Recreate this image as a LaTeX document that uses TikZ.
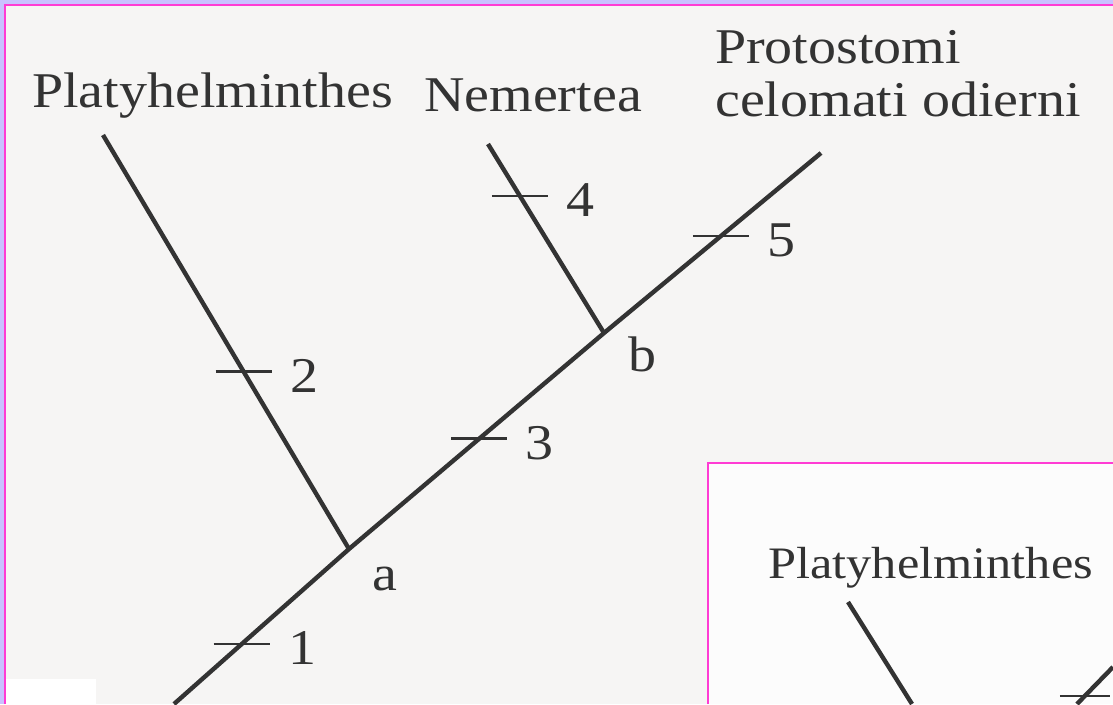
\documentclass[tikz,border=0pt]{standalone}
\usepackage{fontspec}
\setmainfont{Liberation Serif}[FakeStretch=1.12]
\usepackage{tikz}
\usetikzlibrary{positioning,calc}
\definecolor{PageGrey}{HTML}{F6F5F4}
\definecolor{InsetWhite}{HTML}{FCFCFC}
\definecolor{InkGrey}{HTML}{333333}
\definecolor{FrameViolet}{HTML}{C9C2FF}
\definecolor{FrameMagenta}{HTML}{FF3CD4}

\begin{document}
\begin{tikzpicture}[x=1pt,y=-1pt,
    every node/.style={font=\fontsize{50}{58}\selectfont,text=InkGrey},
    taxon/.style={anchor=base west,inner sep=0pt},
    branch/.style={draw=InkGrey,line width=4.4pt},
    tickline/.style={draw=InkGrey,line width=2.7pt},
    num/.style={right,inner sep=0pt,xshift=17pt,yshift=-4pt},
    knot/.style={inner sep=0pt}
  ]
    \useasboundingbox (0,0) rectangle (1113,704);
    \clip (0,0) rectangle (1113,704);
    % page and frame
    \fill[FrameViolet] (0,0) rectangle (1113,704);
    \fill[PageGrey] (5,5) rectangle (1113,704);
    \draw[FrameMagenta,line width=2pt] (5,704) -- (5,5) -- (1113,5);
    \fill[white] (6,679) rectangle (96,704);
    % inset panel
    \fill[InsetWhite] (708,463) rectangle (1113,704);
    \draw[FrameMagenta,line width=2.5pt] (708,704) -- (708,463) -- (1113,463);

    % tree
    \coordinate (root) at (174,704);
    \coordinate (a) at (349,549);
    \coordinate (b) at (604,333);
    \coordinate (proto) at (821,153);
    \coordinate (platy) at (103,135);
    \coordinate (nemer) at (488,144);
    \draw[branch] (root) -- (a) -- (b) -- (proto);
    \draw[branch] (platy) -- (a);
    \draw[branch] (nemer) -- (b);

    \node[taxon] (platyname) at (32,107) {Platyhelminthes};
    \node[taxon] (nemername) at (424,111) {Nemertea};
    \node[taxon] (protoname) at (715,63) {Protostomi};
    \node[taxon] (celoname) at (715,116) {celomati odierni};
    \node[knot,below right=18pt and 23pt of a] (alabel) {a};
    \node[knot,below right=4pt and 24pt of b] (blabel) {b};

    % characters on the branches
    \path (root) -- (a) coordinate[pos=0.387] (t1);
    \path (platy) -- (a) coordinate[pos=0.572] (t2);
    \path (a) -- (b) coordinate[pos=0.51] (t3);
    \path (nemer) -- (b) coordinate[pos=0.275] (t4);
    \path (b) -- (proto) coordinate[pos=0.539] (t5);
    \foreach \t in {1,...,5}
      \draw[tickline] ([xshift=-28pt]t\t) -- ([xshift=28pt]t\t) node[num] {\t};

    % second tree, inset
    \node[taxon,font=\fontsize{45}{52}\selectfont] (iplatyname) at (768,578) {Platyhelminthes};
    \coordinate (iplaty) at (848,602);
    \coordinate (ifoot) at (912,704);
    \coordinate (itop) at (1113,667);
    \coordinate (ibot) at (1077,704);
    \draw[branch] (iplaty) -- (ifoot);
    \draw[branch] (itop) -- (ibot);
    \path (itop) -- (ibot) coordinate[pos=0.78] (it1);
    \draw[tickline] ([xshift=-25pt]it1) -- ([xshift=25pt]it1);
\end{tikzpicture}
\end{document}
